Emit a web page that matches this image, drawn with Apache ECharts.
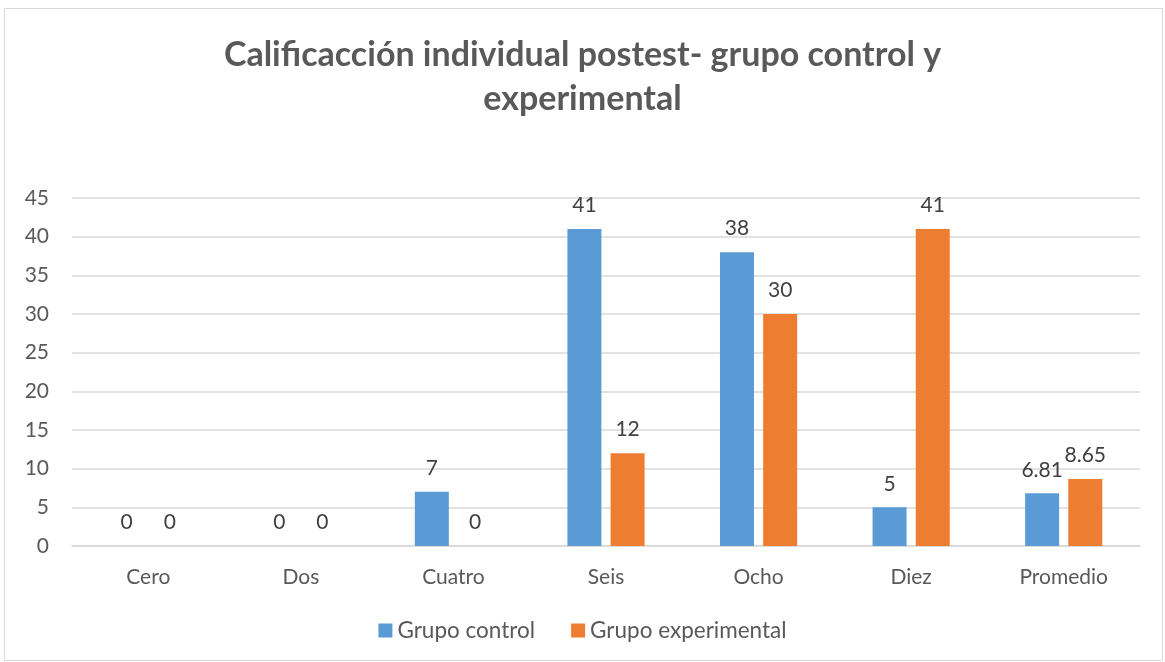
<!DOCTYPE html>
<html><head><meta charset="utf-8">
<script src="https://cdn.jsdelivr.net/npm/echarts@6/dist/echarts.min.js"></script>
<style>html,body{margin:0;padding:0;background:#fff}#c{width:1165px;height:662px}</style>
</head><body><div id="c"></div>
<script>
const categories = ["Cero","Dos","Cuatro","Seis","Ocho","Diez","Promedio"];
const grupoControl = [0,0,7,41,38,5,6.81];
const grupoExperimental = [0,0,0,12,30,41,8.65];
const yTicks = [0,5,10,15,20,25,30,35,40,45];
const FONT = "Lato, 'Open Sans', sans-serif";
const chart = echarts.init(document.getElementById('c'));
chart.setOption({
  backgroundColor:'#fff',
  animation:false,
  graphic:[{type:'rect',shape:{x:4.5,y:8.5,width:1158,height:652},style:{fill:'none',stroke:'#d9d9d9',lineWidth:1}}],
  title:{text:'Calificacción individual postest- grupo control y\nexperimental',left:'center',top:28,
    textStyle:{fontFamily:FONT,fontWeight:'bold',fontSize:34,color:'#595959',lineHeight:44}},
  legend:{bottom:15,left:'center',itemWidth:14,itemHeight:14,itemGap:36,icon:'rect',
    textStyle:{fontFamily:FONT,fontSize:22.5,color:'#595959'}},
  grid:{left:72,right:25,top:198,bottom:116,containLabel:false},
  xAxis:{type:'category',data:categories,axisTick:{show:false},
    axisLine:{lineStyle:{color:'#d9d9d9',width:1.5}},
    axisLabel:{fontFamily:FONT,fontSize:21,color:'#595959',margin:21}},
  yAxis:{type:'value',min:0,max:45,interval:5,
    axisLine:{show:false},axisTick:{show:false},
    splitLine:{lineStyle:{color:'#d9d9d9',width:1.5}},
    axisLabel:{fontFamily:FONT,fontSize:21,color:'#595959',margin:23,
      formatter:v=>yTicks.includes(v)?String(v):''}},
  series:[
    {name:'Grupo control',type:'bar',data:grupoControl,barWidth:34,barGap:'27%',
     itemStyle:{color:'#5b9bd5'},
     label:{show:true,position:'top',distance:13,fontFamily:FONT,fontSize:21,color:'#404040'}},
    {name:'Grupo experimental',type:'bar',data:grupoExperimental,barWidth:34,
     itemStyle:{color:'#ed7d31'},
     label:{show:true,position:'top',distance:13,fontFamily:FONT,fontSize:21,color:'#404040'}}
  ]
});
</script></body></html>
